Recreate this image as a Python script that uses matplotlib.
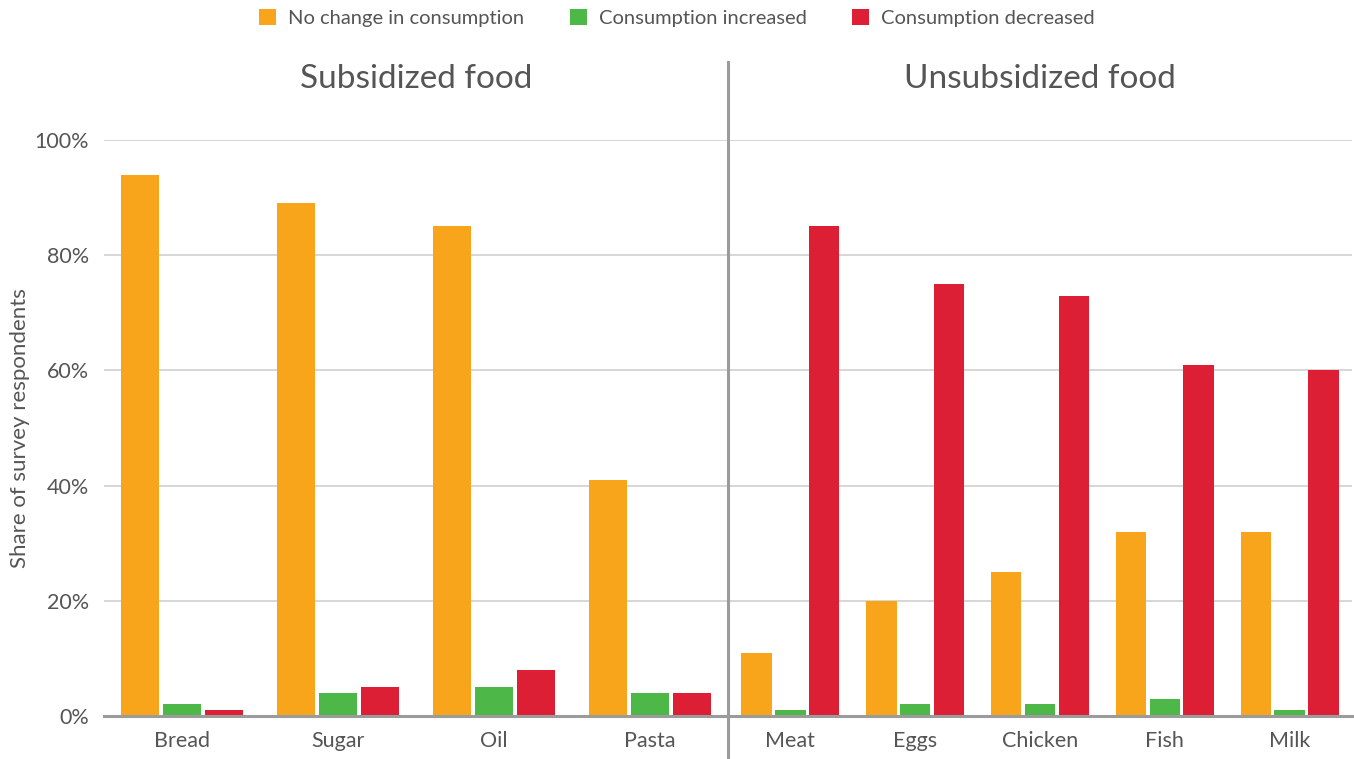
import matplotlib
matplotlib.use("Agg")
import matplotlib.pyplot as plt
from matplotlib.patches import Patch
from matplotlib.lines import Line2D
import numpy as np

plt.rcParams['font.family'] = ['Lato', 'DejaVu Sans']

subs_cats = ["Bread", "Sugar", "Oil", "Pasta"]
subs_nochange = [94, 89, 85, 41]
subs_increased = [2, 4, 5, 4]
subs_decreased = [1, 5, 8, 4]

unsubs_cats = ["Meat", "Eggs", "Chicken", "Fish", "Milk"]
unsubs_nochange = [11, 20, 25, 32, 32]
unsubs_increased = [1, 2, 2, 3, 1]
unsubs_decreased = [85, 75, 73, 61, 60]

series_names = ["No change in consumption", "Consumption increased", "Consumption decreased"]
colors = ["#F8A51C", "#4DB848", "#DC1F35"]
yticks = [0, 20, 40, 60, 80, 100]
ytick_labels = ["0%", "20%", "40%", "60%", "80%", "100%"]
panel_titles = ["Subsidized food", "Unsubsidized food"]

TEXT = "#555555"
W, H = 1354, 759
fig = plt.figure(figsize=(W / 100, H / 100), dpi=100)

def fx(px):
    return px / W

def fy(py):
    return 1 - py / H

ax_bottom = fy(716)
ax_h = (716 - 140) / H
ax1 = fig.add_axes([fx(104), ax_bottom, fx(728 - 104), ax_h])
ax2 = fig.add_axes([fx(728), ax_bottom, fx(1352 - 728), ax_h])

bw = 0.244
gap = 0.027
offsets = [-(bw + gap), 0, (bw + gap)]

for ax, cats, data, title in [
    (ax1, subs_cats, [subs_nochange, subs_increased, subs_decreased], panel_titles[0]),
    (ax2, unsubs_cats, [unsubs_nochange, unsubs_increased, unsubs_decreased], panel_titles[1]),
]:
    x = np.arange(len(cats))
    for vals, off, c in zip(data, offsets, colors):
        ax.bar(x + off, vals, width=bw, color=c, zorder=3)
    ax.set_xlim(-0.5, len(cats) - 0.5)
    ax.set_ylim(0, 100)
    ax.set_yticks(yticks)
    ax.grid(axis='y', color='#d3d3d3', linewidth=1.3, zorder=0)
    ax.set_axisbelow(True)
    ax.set_xticks(x)
    ax.set_xticklabels(cats, fontsize=15.5, color=TEXT)
    ax.tick_params(axis='x', length=0, pad=10.5)
    for s in ['top', 'right', 'left']:
        ax.spines[s].set_visible(False)
    ax.spines['bottom'].set_color('#9b9b9b')
    ax.spines['bottom'].set_linewidth(2.2)
    ax.spines['bottom'].set_zorder(4)
    ax.set_title(title, fontsize=24, color=TEXT, pad=0, y=(716 - 79) / (716 - 140), va='center')

ax1.set_yticklabels(ytick_labels, fontsize=15.5, color=TEXT)
ax1.tick_params(axis='y', length=0, pad=11)
ax2.tick_params(axis='y', length=0, labelleft=False)
ax1.set_ylabel("Share of survey respondents", fontsize=16, color=TEXT, labelpad=3)

# separator line
fig.add_artist(Line2D([fx(728), fx(728)], [fy(62), 0], transform=fig.transFigure,
                      color='#9b9b9b', linewidth=2.2, zorder=10))

handles = [Patch(facecolor=c, edgecolor='none') for c in colors]
fig.legend(handles, series_names, loc='center', bbox_to_anchor=(0.5, fy(18)), ncol=3,
           frameon=False, fontsize=14.5, labelcolor=TEXT, handlelength=0.85, handleheight=0.85,
           handletextpad=0.6, columnspacing=2.25, borderaxespad=0)

fig.savefig("out.png", dpi=100)
